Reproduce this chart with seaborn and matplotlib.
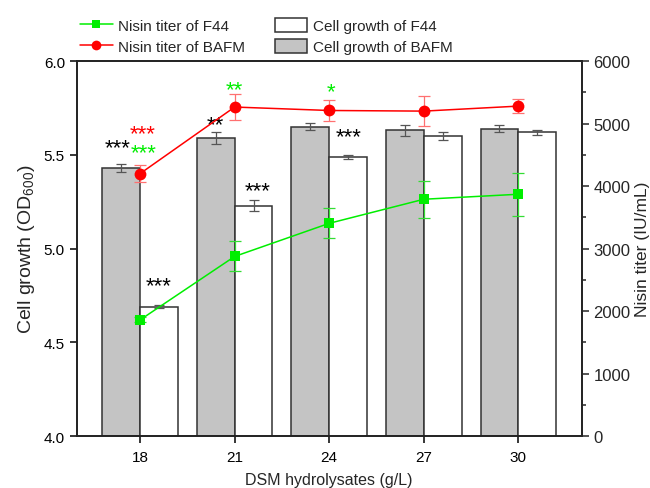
import numpy as np
import pandas as pd
import matplotlib
matplotlib.use("Agg")
import matplotlib.pyplot as plt
from matplotlib.lines import Line2D
from matplotlib.patches import Patch
import seaborn as sns

# ---------------- data ----------------
conc = ["18", "21", "24", "27", "30"]
od_bafm = [5.43, 5.59, 5.65, 5.63, 5.64]
od_bafm_err = [0.02, 0.03, 0.018, 0.03, 0.02]
od_f44 = [4.69, 5.23, 5.49, 5.60, 5.62]
od_f44_err = [0.008, 0.03, 0.01, 0.02, 0.013]
nisin_bafm = [4200, 5265, 5210, 5200, 5280]
nisin_bafm_err = [136, 213, 165, 235, 107]
nisin_f44 = [1860, 2875, 3405, 3790, 3870]
nisin_f44_err = [40, 240, 240, 296, 341]

# ---------------- style ----------------
sns.set_style("ticks")
plt.rcParams["font.family"] = ["Liberation Sans", "DejaVu Sans"]
plt.rcParams["mathtext.default"] = "regular"
plt.rcParams["axes.linewidth"] = 1.2
plt.rcParams["xtick.direction"] = "out"
plt.rcParams["ytick.direction"] = "out"

fig, ax = plt.subplots(figsize=(6.5, 4.89), dpi=100)
fig.subplots_adjust(left=0.118, right=0.895, top=0.873, bottom=0.106)

df = pd.DataFrame({
    "conc": conc * 2,
    "od": od_bafm + od_f44,
    "strain": ["BAFM"] * 5 + ["F44"] * 5,
})
sns.barplot(data=df, x="conc", y="od", hue="strain", order=conc,
            hue_order=["BAFM", "F44"], palette={"BAFM": "#c4c4c4", "F44": "white"},
            edgecolor="#333333", linewidth=1.1, width=0.8, errorbar=None,
            legend=False, ax=ax, zorder=2)
for cont, err in zip(ax.containers, [od_bafm_err, od_f44_err]):
    xs = [b.get_x() + b.get_width() / 2 for b in cont]
    ys = [b.get_height() for b in cont]
    ax.errorbar(xs, ys, yerr=err, fmt="none", ecolor="#555555",
                elinewidth=0.9, capsize=3.5, capthick=0.9, zorder=3)

ax.set_ylim(4.0, 6.0)
ax.set_xlim(-0.67, 4.67)
ax.set_yticks([4.0, 4.5, 5.0, 5.5, 6.0])
ax.set_yticklabels(["4.0", "4.5", "5.0", "5.5", "6.0"])
ax.tick_params(axis="y", labelsize=11, length=5, width=1.1, colors="black")
ax.tick_params(axis="x", labelsize=11, length=5, width=1.1, colors="black", pad=5)
ax.set_xlabel("DSM hydrolysates (g/L)", fontsize=11.5, labelpad=6)
ax.set_ylabel("Cell growth (OD$_{600}$)", fontsize=14, labelpad=5)
for s in ax.spines.values():
    s.set_visible(True)
    s.set_color("black")

# ---------------- lines on twin axis ----------------
ax2 = ax.twinx()
xi = np.arange(len(conc))
sns.lineplot(x=xi, y=nisin_f44, ax=ax2, color="#00ee00", marker="s",
             markersize=7, markeredgewidth=0, linewidth=1.1, zorder=4)
sns.lineplot(x=xi, y=nisin_bafm, ax=ax2, color="#ff0000", marker="o",
             markersize=8.5, markeredgewidth=0, linewidth=1.1, zorder=4)
ax2.errorbar(xi, nisin_f44, yerr=nisin_f44_err, fmt="none", ecolor="#33dd33",
             elinewidth=0.9, capsize=4, capthick=0.9, zorder=3)
ax2.errorbar(xi, nisin_bafm, yerr=nisin_bafm_err, fmt="none", ecolor="#ff7070",
             elinewidth=0.9, capsize=4, capthick=0.9, zorder=3)
ax2.set_ylim(0, 6000)
ax2.set_yticks(np.arange(0, 6001, 1000))
ax2.set_yticks(np.arange(500, 6000, 1000), minor=True)
ax2.tick_params(axis="y", which="major", labelsize=12, length=5, width=1.1)
ax2.tick_params(axis="y", which="minor", length=3, width=1.1)
ax2.set_ylabel("Nisin titer (IU/mL)", fontsize=12.5, labelpad=3)
ax2.set_xlim(-0.67, 4.67)

# ---------------- significance stars ----------------
stars = [
    (-0.24, 5.54, "***", "black"),
    (0.03, 5.615, "***", "red"),
    (0.04, 5.51, "***", "#00ee00"),
    (0.80, 5.66, "**", "black"),
    (1.24, 5.31, "***", "black"),
    (0.995, 5.845, "**", "#00ee00"),
    (2.02, 5.835, "*", "#00ee00"),
    (2.20, 5.595, "***", "black"),
    (0.20, 4.80, "***", "black"),
]
for x, y, t, c in stars:
    ax.text(x, y, t, color=c, fontsize=16, ha="center", va="center", zorder=6)

# ---------------- legend ----------------
handles = [
    Line2D([], [], color="#00ee00", marker="s", markersize=6, markeredgewidth=0, lw=1.1),
    Line2D([], [], color="#ff0000", marker="o", markersize=7, markeredgewidth=0, lw=1.1),
    Patch(facecolor="white", edgecolor="#333333", linewidth=1.1),
    Patch(facecolor="#c4c4c4", edgecolor="#333333", linewidth=1.1),
]
labels = ["Nisin titer of F44", "Nisin titer of BAFM",
          "Cell growth of F44", "Cell growth of BAFM"]
fig.legend(handles, labels, ncol=2, loc="upper center", bbox_to_anchor=(0.41, 0.99),
           frameon=False, fontsize=11, handlelength=2.1, handleheight=1.1,
           columnspacing=2.0, handletextpad=0.35, labelspacing=0.35)

fig.savefig("out.png", dpi=100)
